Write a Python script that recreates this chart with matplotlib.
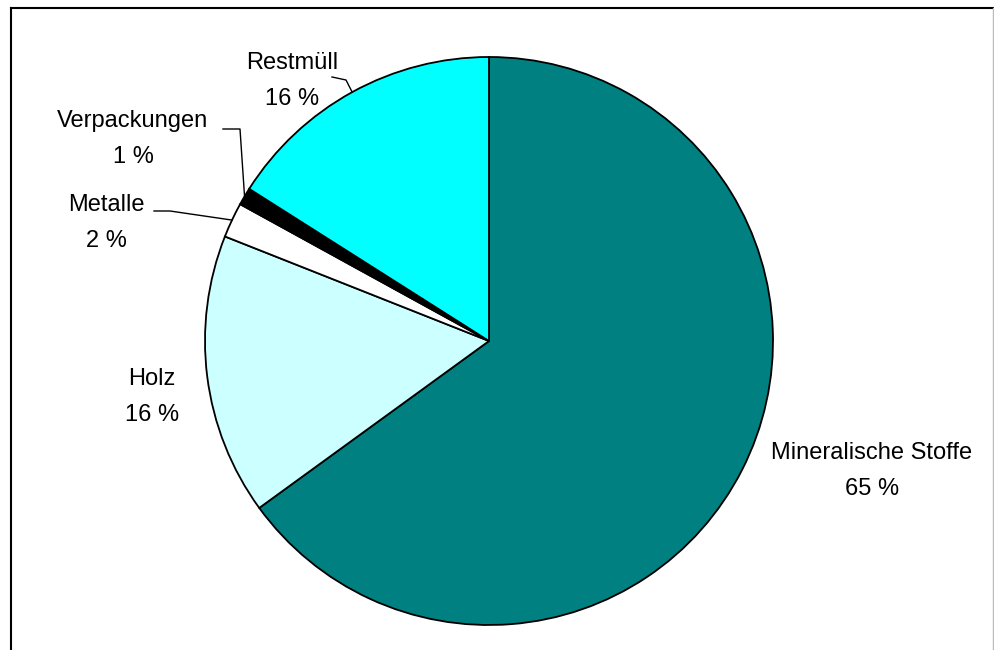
import matplotlib.pyplot as plt
import numpy as np

plt.rcParams['font.family'] = ['Liberation Sans', 'DejaVu Sans']

categories = ['Mineralische Stoffe', 'Holz', 'Metalle', 'Verpackungen', 'Restmüll']
shares = [65, 16, 2, 1, 16]
colors = ['#008080', '#CCFFFF', '#FFFFFF', '#000000', '#00FFFF']

# label text position and optional leader elbow, in pixel coordinates (y down)
label_pos = [(872, 471), (152, 397), (106, 223), (133, 139), (292, 81)]
leader_elbow = [None, None, [(170, 211), (154, 211)], [(240, 129), (223, 129)],
                [(346, 80), (332, 77)]]

W, H = 994, 650
fig = plt.figure(figsize=(W / 100, H / 100), dpi=100)
ax = fig.add_axes([0, 0, 1, 1])

cx, cy, r = 489, H - 341, 284
wedges, _ = ax.pie(shares, colors=colors, startangle=90, counterclock=False,
                   center=(cx, cy), radius=r, frame=True,
                   wedgeprops=dict(edgecolor='black', linewidth=1.3))
ax.set_xlim(0, W)
ax.set_ylim(0, H)
ax.set_aspect('equal')
ax.axis('off')

for w, name, val, pos, elbow in zip(wedges, categories, shares, label_pos, leader_elbow):
    ax.text(pos[0], H - pos[1], f'{name}\n{val} %', ha='center', va='center',
            fontsize=17, linespacing=1.85)
    if elbow:
        mid = np.deg2rad((w.theta1 + w.theta2) / 2)
        xs = [cx + r * np.cos(mid)] + [p[0] for p in elbow]
        ys = [cy + r * np.sin(mid)] + [H - p[1] for p in elbow]
        ax.plot(xs, ys, color='black', linewidth=1.0)

# outer frame
fig.add_artist(plt.Line2D([11 / W, 1], [1 - 8 / H, 1 - 8 / H], color='black', linewidth=1.5))
fig.add_artist(plt.Line2D([11 / W, 11 / W], [0, 1 - 8 / H], color='black', linewidth=1.5))
fig.add_artist(plt.Line2D([993 / W, 993 / W], [0, 1 - 8 / H], color='#bbbbbb', linewidth=1.0))

fig.savefig('out.png', dpi=100, facecolor='white')
